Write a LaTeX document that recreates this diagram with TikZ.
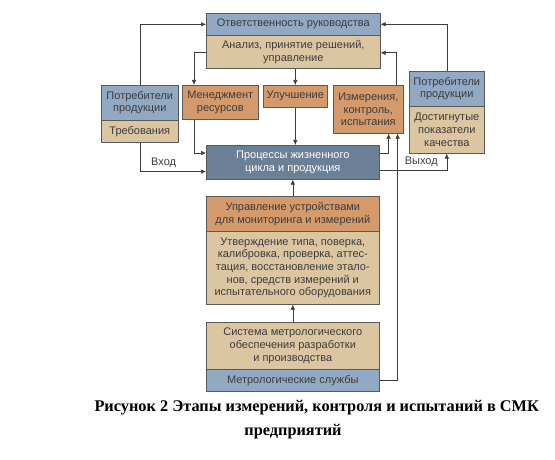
\documentclass[tikz,border=0pt]{standalone}
\usepackage{fontspec}
\setmainfont{Liberation Sans}
\newfontfamily\capfont{Liberation Serif}
\usepackage{tikz}
\usetikzlibrary{calc, arrows.meta}
\definecolor{boxblue}{HTML}{92A9C3}
\definecolor{boxtan}{HTML}{DCC6A2}
\definecolor{boxorange}{HTML}{D49A6C}
\definecolor{boxslate}{HTML}{6B7F96}
\definecolor{inkgray}{HTML}{3C3C3C}
\tikzset{
  box/.style={draw=inkgray!85, line width=0.6pt, anchor=north west, align=center,
    inner sep=1pt, text=inkgray, font=\fontsize{11}{12.6}\selectfont},
  flow/.style={draw=inkgray, line width=0.6pt, -{Latex[length=5pt,width=4.5pt]}},
  lbl/.style={text=inkgray, font=\fontsize{11}{12.6}\selectfont}
}

\begin{document}
\begin{tikzpicture}[x=1pt, y=-1pt]
  \useasboundingbox (0,0) rectangle (555,460);
  % top block
  \node[box, fill=boxblue, minimum width=174pt, minimum height=22pt] (resp) at (206,13) {Ответственность руководства};
  \node[box, fill=boxtan, minimum width=174pt, minimum height=33pt] (anal) at (206,35) {Анализ, принятие решений,\\управление};
  % middle row
  \node[box, fill=boxblue, minimum width=77pt, minimum height=35pt] (consl) at (101,85) {Потребители\\продукции};
  \node[box, fill=boxtan, minimum width=77pt, minimum height=22pt] (req) at (101,120) {Требования};
  \node[box, fill=boxorange, minimum width=76pt, minimum height=34pt] (resm) at (182,85) {Менеджмент\\ресурсов};
  \node[box, fill=boxorange, minimum width=64pt, minimum height=22pt] (impr) at (263,85) {Улучшение};
  \node[box, fill=boxorange, minimum width=70pt, minimum height=48pt] (meas) at (333,85) {Измерения,\\контроль,\\испытания};
  \node[box, fill=boxblue, minimum width=75pt, minimum height=35pt] (consr) at (409,71) {Потребители\\продукции};
  \node[box, fill=boxtan, minimum width=75pt, minimum height=47pt] (qual) at (409,106) {Достигнутые\\показатели\\качества};
  \node[box, fill=boxslate, text=white, minimum width=173pt, minimum height=34pt] (proc) at (206,145) {Процессы жизненного\\цикла и продукция};
  % lower blocks
  \node[box, fill=boxorange, minimum width=173pt, minimum height=35pt] (devc) at (206,196) {Управление устройствами\\для мониторинга и измерений};
  \node[box, fill=boxtan, minimum width=173pt, minimum height=73pt] (verif) at (206,231) {Утверждение типа, поверка,\\калибровка, проверка, аттес-\\тация, восстановление этало-\\нов, средств измерений и\\испытательного оборудования};
  \node[box, fill=boxtan, minimum width=173pt, minimum height=47pt] (msys) at (206,322) {Система метрологического\\обеспечения разработки\\и производства};
  \node[box, fill=boxblue, minimum width=173pt, minimum height=22pt] (msrv) at (206,369) {Метрологические службы};

  \draw[flow] (consl.north) |- (resp.west);
  \draw[flow] (consr.north) |- (resp.east);
  \draw[flow] ($(anal.west)+(0,1)$) -| ($(resm.north west)+(12,0)$);
  \draw[flow] (impr.north |- anal.south) -- (impr.north);
  \draw[flow] (impr.south) -- (impr.south |- proc.north);
  \draw[flow] ($(resm.south west)+(12,0)$) |- ($(proc.north west)+(0,8)$);
  \draw[flow] (req.south) |- ($(proc.south west)+(0,-8)$) node[lbl, pos=0.68, above] {Вход};
  \draw[flow] ($(proc.north east)+(0,8)$) -| ($(meas.south east)+(-15,0)$);
  \draw[flow] (msrv.east) -| ($(meas.south east)+(-6,0)$);
  \draw[flow] ($(meas.north east)+(-7,0)$) |- ($(anal.east)+(0,1)$);
  \draw[flow] ($(proc.south east)+(0,-9)$) -| (qual.south) node[lbl, pos=0.31, above] {Выход};
  \draw[flow] (devc.north) -- (proc.south);
  \draw[flow] (msys.north) -- (verif.south);

  \node[font=\capfont\bfseries\fontsize{16.3}{19}\selectfont, anchor=west] (cap1) at (91,408) {Рисунок 2 Этапы измерений, контроля и испытаний в СМК};
  \node[font=\capfont\bfseries\fontsize{16.3}{19}\selectfont] (cap2) at (293,432) {предприятий};
\end{tikzpicture}
\end{document}
